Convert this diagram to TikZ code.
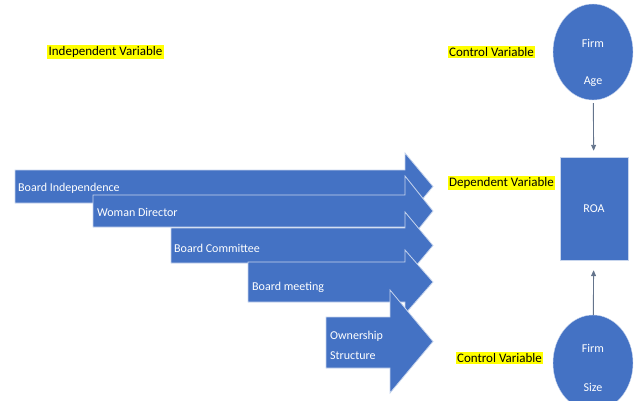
\documentclass[tikz,border=0pt]{standalone}
\usepackage{fontspec}
\setmainfont{Carlito}
\usetikzlibrary{shapes.geometric,arrows.meta}
\definecolor{arrowblue}{RGB}{68,114,196}
\definecolor{linegray}{RGB}{100,116,140}
\definecolor{marker}{RGB}{255,255,0}
\begin{document}
\begin{tikzpicture}[x=1pt,y=-1pt,
    conn/.style = {draw=linegray, line width=0.9pt, -{Triangle[length=6pt,width=5pt]}}]
            \useasboundingbox (0,0) rectangle (640,400);
            \clip (0,0) rectangle (640,400);
            {
                \tikzset{bigarrow/.style = {fill=arrowblue, draw=white!70!arrowblue, line width=0.8pt}}
                \tikzset{intext/.style = {text=white, font=\fontsize{12}{14}\selectfont, inner sep=0pt, anchor=west}}
                \tikzset{hilite/.style = {fill=marker, text=black, font=\fontsize{13}{15}\selectfont, inner sep=1.5pt}}
                \tikzset{circ/.style = {ellipse, fill=arrowblue, draw=white!70!arrowblue, minimum width=80pt, minimum height=96pt, inner sep=0pt}}

                % block arrows
                \path[bigarrow] (15,170) -- (405,170) -- (405,153) -- (433,186.5) -- (405,220) -- (405,203) -- (15,203) -- cycle;
                \path[bigarrow] (93,195) -- (405,195) -- (405,176) -- (433,211) -- (405,246) -- (405,227) -- (93,227) -- cycle;
                \path[bigarrow] (171,228) -- (405,228) -- (405,212) -- (433,245.5) -- (405,279) -- (405,263) -- (171,263) -- cycle;
                \path[bigarrow] (248,262) -- (405,262) -- (405,250) -- (433,282) -- (405,314) -- (405,302) -- (248,302) -- cycle;
                \path[bigarrow] (326,317) -- (390,317) -- (390,290) -- (433,341.5) -- (390,393) -- (390,368) -- (326,368) -- cycle;

                \node[intext] (indep) at (18,188) {Board Independence};
                \node[intext] (woman) at (97,212) {Woman Director};
                \node[intext] (committee) at (174,248) {Board Committee};
                \node[intext] (meeting) at (252,287) {Board meeting};
                \node[intext] (owner) at (330,336) {Ownership};
                \node[intext] (structure) at (330,356) {Structure};

                % labels
                \node[hilite] (indvar) at (105.5,52) {Independent Variable};
                \node[hilite] (ctrltop) at (491.5,52) {Control Variable};
                \node[hilite] (depvar) at (501.5,183) {Dependent Variable};
                \node[hilite] (ctrlbot) at (499.5,358) {Control Variable};

                % right column
                \node[circ] (age) at (593,52) {};
                \node[intext, anchor=center] (agefirm) at (593,43) {Firm};
                \node[intext, anchor=center] (agename) at (593,82) {Age};

                \node[fill=arrowblue, draw=white!70!arrowblue, minimum width=68pt, minimum height=103pt, text=white, font=\fontsize{12}{14}\selectfont] (roa) at (594,208.5) {ROA};

                \node[circ] (size) at (593,363) {};
                \node[intext, anchor=center] (sizefirm) at (593,348) {Firm};
                \node[intext, anchor=center] (sizename) at (593,387) {Size};
            }

            \draw[conn, shorten <=3pt, shorten >=6pt] (age) -- (roa);
            \draw[conn, shorten >=10pt] (size) -- (roa);

        \end{tikzpicture}
\end{document}
